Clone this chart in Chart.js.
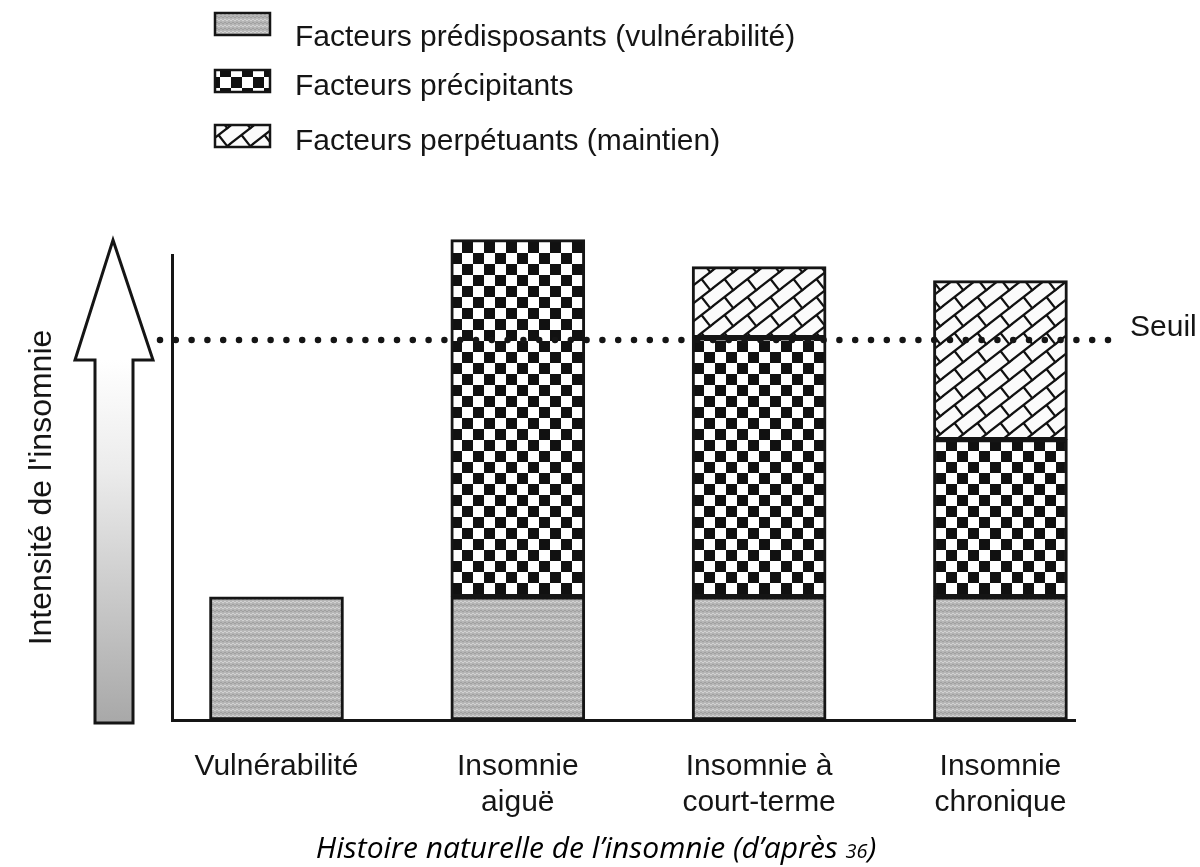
<!DOCTYPE html>
<html lang="fr">
<head>
    <meta charset="UTF-8">
    <title>Histoire naturelle de l'insomnie</title>
    <script src="https://cdn.jsdelivr.net/npm/chart.js"></script>
    <style>
        body { margin: 0; background: #fff; }
        #wrap { width: 1200px; height: 867px; position: relative; }
    </style>
</head>
<body>
<div id="wrap"><canvas id="insomnieChart"></canvas></div>
<script>
    // Données (unités arbitraires, 10 = haut de l'axe)
    const categories = [['Vulnérabilité'], ['Insomnie', 'aiguë'], ['Insomnie à', 'court-terme'], ['Insomnie', 'chronique']];
    const predisposants = [2.65, 2.65, 2.65, 2.65];
    const precipitants = [null, 7.68, 5.57, 3.38];
    const perpetuants = [null, null, 1.53, 3.42];
    const seriesLabels = ['Facteurs prédisposants (vulnérabilité)', 'Facteurs précipitants', 'Facteurs perpétuants (maintien)'];
    const seuil = 8.17;
    const seuilLabel = 'Seuil';
    const yMax = 10;
    const yTitle = "Intensité de l'insomnie";
    const captionText = 'Histoire naturelle de l’insomnie (d’après ';
    const captionRef = '36';

    const INK = '#151515';
    const FONT = '"Liberation Sans", Arial, sans-serif';
    Chart.defaults.font.family = FONT;
    Chart.defaults.color = INK;

    const canvas = document.getElementById('insomnieChart');
    const ctx = canvas.getContext('2d');

    // Petites tuiles pour les motifs de remplissage
    function makeTile(w, h, draw) {
        const c = document.createElement('canvas');
        c.width = w;
        c.height = h;
        draw(c.getContext('2d'), w, h);
        return c;
    }

    const greyTile = makeTile(8, 6, (g, w, h) => {
        g.fillStyle = '#b6b6b6';
        g.fillRect(0, 0, w, h);
        g.fillStyle = '#d2d2d2';
        for (let x = 0; x < w; x++) g.fillRect(x, (x % 4 < 2) ? 1 : 2, 1, 1);
        g.fillStyle = '#a0a0a0';
        for (let x = 0; x < w; x++) g.fillRect(x, (x % 4 < 2) ? 4 : 5, 1, 1);
    });

    const checkerTile = makeTile(22, 22, (g) => {
        g.fillStyle = '#ffffff';
        g.fillRect(0, 0, 22, 22);
        g.fillStyle = '#111111';
        g.fillRect(0, 0, 11, 11);
        g.fillRect(11, 11, 11, 11);
    });

    const brickTile = makeTile(23, 18, (g, w, h) => {
        g.fillStyle = '#fbfbfb';
        g.fillRect(0, 0, w, h);
        g.strokeStyle = '#111';
        g.lineWidth = 2.2;
        g.lineCap = 'round';
        const n = Math.hypot(w, h), nx = h / n, ny = w / n, gap = w * h / n;
        for (const dx of [-w, 0, w]) {
            for (const dy of [-h, 0, h]) {
                g.beginPath();
                g.moveTo(dx, h + dy);
                g.lineTo(w + dx, dy);
                g.moveTo(w / 2 + dx, h / 2 + dy);
                g.lineTo(w / 2 + dx + nx * gap, h / 2 + dy + ny * gap);
                g.stroke();
            }
        }
    });

    const fills = [
        ctx.createPattern(greyTile, 'repeat'),
        ctx.createPattern(checkerTile, 'repeat'),
        ctx.createPattern(brickTile, 'repeat')
    ];

    const toPoints = values => values.map((v, i) => ({ x: i, y: v }));

    // Légende verticale en haut à gauche
    const legendPlugin = {
        id: 'legendeMotifs',
        afterDraw(chart) {
            const g = chart.ctx;
            const rows = [{ top: 13, base: 46 }, { top: 70, base: 95 }, { top: 125, base: 150 }];
            g.save();
            chart.data.datasets.forEach((ds, i) => {
                const r = rows[i];
                g.fillStyle = ds.backgroundColor;
                g.fillRect(215, r.top, 55, 22);
                g.strokeStyle = INK;
                g.lineWidth = 2.5;
                g.strokeRect(215, r.top, 55, 22);
                g.fillStyle = INK;
                g.font = '30px ' + FONT;
                g.textBaseline = 'alphabetic';
                g.fillText(ds.label, 295, r.base);
            });
            g.restore();
        }
    };

    // Grande flèche "intensité" à gauche de l'axe
    const arrowPlugin = {
        id: 'flecheIntensite',
        afterDraw(chart) {
            const g = chart.ctx;
            const bottom = chart.chartArea.bottom + 3;
            g.save();
            const grad = g.createLinearGradient(0, 360, 0, bottom);
            grad.addColorStop(0, '#ffffff');
            grad.addColorStop(0.3, '#ececec');
            grad.addColorStop(1, '#a8a8a8');
            g.beginPath();
            g.moveTo(113, 240);
            g.lineTo(153, 360);
            g.lineTo(133, 360);
            g.lineTo(133, bottom);
            g.lineTo(95, bottom);
            g.lineTo(95, 360);
            g.lineTo(75, 360);
            g.closePath();
            g.fillStyle = grad;
            g.fill();
            g.strokeStyle = INK;
            g.lineWidth = 3;
            g.lineJoin = 'miter';
            g.stroke();
            g.restore();
        }
    };

    // Ligne pointillée du seuil + étiquette
    const seuilPlugin = {
        id: 'seuil',
        afterDatasetsDraw(chart) {
            const g = chart.ctx;
            const y = chart.scales.y.getPixelForValue(seuil);
            g.save();
            g.strokeStyle = INK;
            g.lineWidth = 6.5;
            g.lineCap = 'round';
            g.setLineDash([0, 15.8]);
            g.beginPath();
            g.moveTo(160, y);
            g.lineTo(1110, y);
            g.stroke();
            g.setLineDash([]);
            g.fillStyle = INK;
            g.font = '30px ' + FONT;
            g.textBaseline = 'alphabetic';
            g.fillText(seuilLabel, 1130, y - 4);
            g.restore();
        }
    };

    // Légende de la figure, en italique, avec la référence en petit
    const captionPlugin = {
        id: 'legendeFigure',
        afterDraw(chart) {
            const g = chart.ctx;
            const big = 'italic 30px "Open Sans", sans-serif';
            const small = 'italic 20px "Open Sans", sans-serif';
            g.save();
            g.fillStyle = '#000';
            g.textBaseline = 'alphabetic';
            g.font = big;
            const w1 = g.measureText(captionText).width;
            const w3 = g.measureText(')').width;
            g.font = small;
            const w2 = g.measureText(captionRef).width;
            let x = 596 - (w1 + w2 + w3) / 2;
            const y = 858;
            g.font = big;
            g.fillText(captionText, x, y);
            x += w1;
            g.font = small;
            g.fillText(captionRef, x, y);
            x += w2;
            g.font = big;
            g.fillText(')', x, y);
            g.restore();
        }
    };

    new Chart(ctx, {
        type: 'bar',
        data: {
            datasets: [
                { label: seriesLabels[0], data: toPoints(predisposants), backgroundColor: fills[0] },
                { label: seriesLabels[1], data: toPoints(precipitants), backgroundColor: fills[1] },
                { label: seriesLabels[2], data: toPoints(perpetuants), backgroundColor: fills[2] }
            ]
        },
        options: {
            responsive: true,
            maintainAspectRatio: false,
            animation: false,
            layout: { padding: { top: 255, left: 19, right: 125, bottom: 0 } },
            datasets: {
                bar: {
                    barThickness: 134,
                    borderColor: INK,
                    borderWidth: 3,
                    borderSkipped: false,
                    clip: false
                }
            },
            plugins: {
                legend: { display: false },
                tooltip: { enabled: false }
            },
            scales: {
                x: {
                    type: 'linear',
                    stacked: true,
                    offset: false,
                    min: -0.433,
                    max: 3.309,
                    afterFit: s => { s.height = 147; },
                    grid: { display: false, drawTicks: false },
                    border: { color: INK, width: 3 },
                    ticks: {
                        stepSize: 1,
                        includeBounds: false,
                        autoSkip: false,
                        maxRotation: 0,
                        padding: 28,
                        color: INK,
                        font: { size: 30, lineHeight: 1.22 },
                        callback: v => categories[v] || ''
                    }
                },
                y: {
                    stacked: true,
                    min: 0,
                    max: yMax,
                    afterFit: s => { s.width = 153; },
                    grid: { display: false, drawTicks: false },
                    border: { color: INK, width: 3 },
                    ticks: { display: false },
                    title: {
                        display: true,
                        text: yTitle,
                        color: INK,
                        font: { size: 32 },
                        padding: { top: 4, bottom: 0 }
                    }
                }
            }
        },
        plugins: [arrowPlugin, seuilPlugin, legendPlugin, captionPlugin]
    });
</script>
</body>
</html>
